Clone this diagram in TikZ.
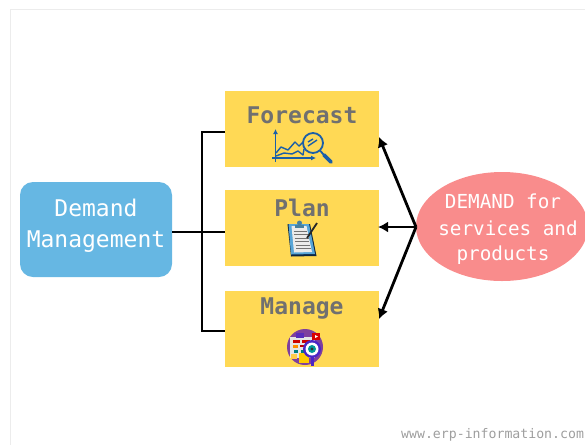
\documentclass[tikz,border=0pt]{standalone}
\usepackage{fontspec}
\setmonofont{DejaVu Sans Mono}
\usetikzlibrary{arrows.meta,shapes.geometric}
\definecolor{boxyellow}{HTML}{FFD955}
\definecolor{boxblue}{HTML}{66B7E3}
\definecolor{boxpink}{HTML}{F98C8C}
\definecolor{titlegray}{HTML}{707070}
\definecolor{iconblue}{HTML}{1B5FA8}
\definecolor{framegray}{HTML}{ECECEC}
\definecolor{iconviolet}{HTML}{7E3F9E}
\tikzset{
  stepbox/.style={fill=boxyellow,minimum width=154pt,minimum height=76pt,inner sep=0pt},
  steptext/.style={font=\ttfamily\bfseries\fontsize{23}{23}\selectfont,text=titlegray,inner sep=0pt},
  bigtext/.style={font=\ttfamily\fontsize{23}{23}\selectfont,text=white,inner sep=0pt},
  smalltext/.style={font=\ttfamily\fontsize{19.3}{19.3}\selectfont,text=white,inner sep=0pt},
  link/.style={draw,line width=2.8pt,black},
  arrow/.style={draw,line width=2.8pt,black,-{Latex[length=10pt,width=11pt]}},
}
\begin{document}
\begin{tikzpicture}[x=1pt,y=-1pt]
\useasboundingbox (0,0) rectangle (585,445);
\draw[framegray,line width=1.2pt] (10.5,445) -- (10.5,9.5) -- (585,9.5);

\node[stepbox] (forecast) at (302,129) {};
\node[stepbox] (plan) at (302,228) {};
\node[stepbox] (manage) at (302,329) {};
\node[fill=boxblue,rounded corners=13pt,minimum width=152pt,minimum height=95pt,inner sep=0pt] (mgmt) at (96,229.5) {};
\node[draw=none,fill=boxpink,ellipse,minimum width=172pt,minimum height=109pt,inner sep=0pt] (demand) at (502,226.5) {};

\node[steptext] (t1) at (302,115) {Forecast};
\node[steptext] (t2) at (302,207.5) {Plan};
\node[steptext] (t3) at (302,308.5) {Manage};
\node[bigtext] (t4) at (96,208) {Demand};
\node[bigtext] (t5) at (96,241.5) {Management};
\node[smalltext] (t6) at (503,201) {DEMAND for};
\node[smalltext] (t7) at (508,228) {services and};
\node[smalltext] (t8) at (503,255.5) {products};
\node[font=\ttfamily\fontsize{13.2}{13.2}\selectfont,text=black!38,anchor=west,inner sep=0pt] (site) at (401,435) {www.erp-information.com};

% connectors on the left
\coordinate (hub) at (202,232);
\coordinate (in1) at (225,132);
\coordinate (in2) at (225,232);
\coordinate (in3) at (225,331);
\coordinate (out) at (172,232);
\path[link] (out) -- (in2);
\path[link] (in1) -| (hub) |- (in3);

% arrows on the right
\coordinate (src) at (416,227);
\coordinate (tip1) at (379,137);
\coordinate (tip2) at (378,227);
\coordinate (tip3) at (379,319);
\path[arrow] (src) -- (tip1);
\path[arrow] (src) -- (tip2);
\path[arrow] (src) -- (tip3);

% forecast icon
\begin{scope}[iconblue,line width=1.4pt,line join=round]
\draw[-{Latex[length=5pt,width=5pt]}] (275.5,162) -- (275.5,129);
\draw[-{Latex[length=5pt,width=5pt]}] (272,158) -- (316,158);
\draw (276,153) -- (281,147) -- (288,150) -- (295,142) -- (299,146) -- (304,141);
\draw (276,156) -- (284,153) -- (292,154) -- (298,151) -- (303,155) -- (304,149);
\draw[line width=1.8pt,fill=boxyellow] (313,143) circle (10);
\draw (308,146) -- (317,140);
\draw (308,142) -- (313,139);
\draw[line width=1.8pt] (320,150.5) -- (324,155);
\draw[line width=3.6pt,line cap=round] (324,155) -- (331,162);
\end{scope}

% clipboard icon
\fill[black!60!iconblue] (287.5,224) -- (310,224) -- (316.5,256) -- (291,256.5) -- cycle;
\fill[boxblue!80!iconblue] (288.5,224) -- (309,224) -- (315,254) -- (291,254.5) -- cycle;
\fill[white!92!black] (291.5,226) -- (306.5,226) -- (312,252) -- (294,252.5) -- cycle;
\foreach \i in {0,...,5} {
  \draw[black!55,line width=1pt] ({293.5+\i*0.55},{231+\i*3.5}) -- ({307+\i*0.8},{231+\i*3.5});
}
\fill[boxblue!70!black] (295,224.5) rectangle (304,228);
\fill[boxblue!70!black] (299.5,223) circle (2.5);
\draw[black!85,line width=1.8pt] (307,238) -- (317,223);

% manage icon
\fill[iconviolet] (305,347) circle (18);
\fill[white!90!black] (290,337) rectangle (315,358);
\fill[iconviolet!70!blue] (296,333) rectangle (304,338);
\fill[red!80!black] (293,340) rectangle (300,343);
\fill[red!80!black] (302,340) rectangle (310,343);
\fill[orange!90!yellow] (293,345) rectangle (298,348);
\fill[red!75!black] (300,345) rectangle (309,347);
\fill[teal] (294,350) rectangle (298,353);
\fill[teal] (301,350) rectangle (305,353);
\fill[red!85!black] (312,333) rectangle (320,340);
\fill[white] (315,335) -- (318,336.5) -- (315,338) -- cycle;
\fill[boxyellow!85!orange] (291,354) rectangle (297,359);
\fill[orange!40!yellow] (299,353) rectangle (309,363);
\fill[iconviolet!60!blue] (311,356) rectangle (314,366);
\fill[iconviolet!60!blue] (312,349) circle (9);
\fill[white] (312,349) circle (6.5);
\fill[teal!80!cyan] (312,349) circle (4);
\fill[black!80] (312,349) circle (1.6);
\end{tikzpicture}
\end{document}
